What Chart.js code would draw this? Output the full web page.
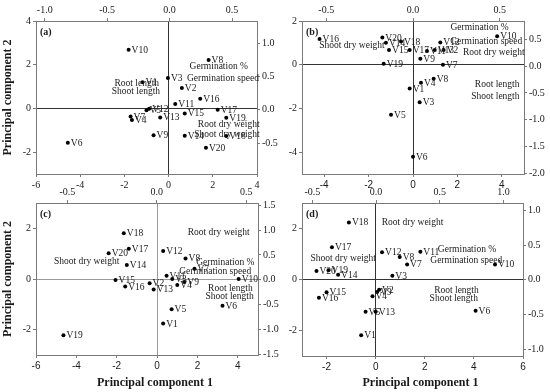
<!DOCTYPE html>
<html>
<head>
<meta charset="utf-8">
<script src="https://cdn.jsdelivr.net/npm/chart.js@4.4.1/dist/chart.umd.min.js"></script>
<style>
  html, body { margin: 0; padding: 0; background: #fff; }
  #wrap { position: relative; width: 550px; height: 392px; }
  #wrap canvas { position: absolute; left: 0; top: 0; }
</style>
</head>
<body>
<div id="wrap">
  <canvas id="ca" width="550" height="392"></canvas>
  <canvas id="cb" width="550" height="392"></canvas>
  <canvas id="cc" width="550" height="392"></canvas>
  <canvas id="cd" width="550" height="392"></canvas>
</div>
<script>
// ---------- data ----------
const genotypes = ['V1','V2','V3','V4','V5','V6','V7','V8','V9','V10','V11','V12','V13','V14','V15','V16','V17','V18','V19','V20'];
const traits = ['Germination %','Germination speed','Root length','Shoot length','Root dry weight','Shoot dry weight'];

// panel (a)
const pc1A = [-1.18, 0.60, -0.03, -1.66, -1.00, -4.56, -1.72, 1.81, -0.68, -1.81, 0.30, -0.88, -0.38, 0.73, 0.73, 1.43, 2.22, 2.61, 2.61, 1.69];
const pc2A = [1.20, 0.94, 1.39, -0.53, -0.08, -1.57, -0.37, 2.21, -1.23, 2.69, 0.20, -0.02, -0.41, -1.25, -0.23, 0.44, -0.06, -1.26, -0.43, -1.80];
const traitXA = [2.27, 2.46, -1.44, -1.48, 2.72, 2.64];
const traitYA = [1.90, 1.35, 1.14, 0.76, -0.73, -1.19];

// panel (b)
const pc1B = [-0.15, 1.38, 0.30, 0.36, -0.99, 0.00, 1.35, 0.93, 0.33, 3.79, 0.63, 1.23, 0.98, -1.22, -1.08, -4.21, -0.15, -0.54, -1.32, -1.38];
const pc2B = [-1.09, 0.67, -1.72, -0.82, -2.29, -4.21, 0.00, -0.64, 0.27, 1.30, 0.63, 1.02, 0.67, 1.00, 0.67, 1.18, 0.67, 1.06, 0.04, 1.24];
const traitXB = [3.00, 3.30, 3.79, 3.71, 3.64, -2.75];
const traitYB = [1.72, 1.05, -0.90, -1.47, 0.55, 0.90];

// panel (c)
const pc1C = [0.30, -0.37, 0.75, 1.00, 0.72, 3.24, 1.85, 1.41, 1.35, 4.04, 0.47, 0.30, -0.17, -1.50, -2.06, -1.58, -1.40, -1.65, -4.64, -2.40];
const pc2C = [-1.76, -0.17, 0.00, -0.24, -1.19, -1.06, 0.40, 0.81, -0.12, 0.00, 0.13, 1.11, -0.41, 0.55, -0.04, -0.30, 1.19, 1.81, -2.22, 1.02];
const traitXC = [3.38, 2.88, 3.63, 3.59, 3.05, -3.49];
const traitYC = [0.65, 0.29, -0.37, -0.70, 1.83, 0.69];

// panel (d)
const pc1D = [-0.59, 0.14, 0.68, -0.13, -0.41, 4.07, 1.28, 0.98, 0.06, 4.86, 1.82, 0.26, 0.00, -1.53, -2.00, -2.31, -1.78, -1.09, -1.92, -2.41];
const pc2D = [-2.19, -0.40, 0.15, -0.66, -1.26, -1.23, 0.59, 0.88, -0.49, 0.59, 1.09, 1.07, -1.26, 0.19, -0.50, -0.72, 1.26, 2.24, 0.36, 0.33];
const traitXD = [3.72, 3.69, 3.29, 3.18, 1.50, -1.32];
const traitYD = [1.16, 0.75, -0.43, -0.73, 2.22, 0.81];

// tick labels
const ticksXA = [-6, -4, -2, 0, 2, 4], ticksYA = [-2, 0, 2, 4], ticksX2A = [-1.0, -0.5, 0.0, 0.5], ticksY2A = [-0.5, 0.0, 0.5, 1.0];
const ticksXB = [-4, -2, 0, 2, 4], ticksYB = [-4, -2, 0, 2], ticksX2B = [-0.5, 0.0, 0.5], ticksY2B = [-2.0, -1.5, -1.0, -0.5, 0.0, 0.5];
const ticksXC = [-6, -4, -2, 0, 2, 4], ticksYC = [-2, 0, 2], ticksX2C = [-0.5, 0.0, 0.5], ticksY2C = [-1.5, -1.0, -0.5, 0.0, 0.5, 1.0, 1.5];
const ticksXD = [-2, 0, 2, 4, 6], ticksYD = [-2, 0, 2], ticksX2D = [-0.5, 0.0, 0.5, 1.0], ticksY2D = [-1.0, -0.5, 0.0, 0.5, 1.0];

// ---------- drawing ----------
const SERIF = "'Liberation Serif', 'Times New Roman', serif";
const SANS = "'Liberation Sans', Arial, sans-serif";
const AXIS = '#7a7a7a';
const TXT = '#1a1a1a';

const labelPlugin = {
  id: 'pcaLabels',
  afterDatasetsDraw(chart, args, opts) {
    const ctx = chart.ctx;
    const xs = chart.scales.x, ys = chart.scales.y;
    ctx.save();
    ctx.fillStyle = TXT;
    ctx.textBaseline = 'middle';
    // genotype labels
    ctx.font = "9.5px " + SERIF;
    ctx.textAlign = 'left';
    const meta = chart.getDatasetMeta(0);
    meta.data.forEach((pt, i) => {
      ctx.fillText(opts.names[i], pt.x + 3, pt.y + 0.5);
    });
    // trait labels
    ctx.textAlign = 'center';
    opts.traits.forEach((t, i) => {
      ctx.fillText(t, xs.getPixelForValue(opts.tx[i]), ys.getPixelForValue(opts.ty[i]));
    });
    // panel letter
    ctx.font = "bold 10px " + SERIF;
    ctx.textAlign = 'left';
    ctx.fillText(opts.letter, chart.chartArea.left + 4, chart.chartArea.top + 11);
    // x axis title (bottom panels)
    if (opts.xTitle) {
      ctx.font = "bold 12px " + SERIF;
      ctx.textAlign = 'center';
      const a = chart.chartArea;
      ctx.fillText('Principal component 1', (a.left + a.right) / 2 + 8, 383);
    }
    ctx.restore();
  }
};

function fixedTicks(values) {
  return function (scale) { scale.ticks = values.map(v => ({ value: v })); };
}

function makePanel(id, p) {
  const tickFont = { family: SERIF, size: 10 };
  const scales = {
    x: {
      type: 'linear', position: 'bottom', min: p.xr[0], max: p.xr[1],
      afterBuildTicks: fixedTicks(p.tx),
      afterFit: s => { s.height = p.hB; },
      ticks: { callback: v => String(v), font: { family: p.bottomFont, size: 10 }, color: TXT, maxRotation: 0, autoSkip: false, padding: 2 },
      grid: { drawOnChartArea: true, color: c => (c.tick && c.tick.value === 0) ? p.zero : 'rgba(0,0,0,0)', tickColor: AXIS, tickLength: 3, lineWidth: 1 },
      border: { display: true, color: AXIS, width: 1 }
    },
    x2: {
      type: 'linear', position: 'top', min: p.x2r[0], max: p.x2r[1],
      afterBuildTicks: fixedTicks(p.tx2),
      afterFit: s => { s.height = 18; },
      ticks: { callback: v => v.toFixed(1), font: tickFont, color: TXT, maxRotation: 0, autoSkip: false, padding: 2 },
      grid: { drawOnChartArea: false, tickColor: AXIS, tickLength: 3 },
      border: { display: true, color: AXIS, width: 1 }
    },
    y: {
      type: 'linear', position: 'left', min: p.yr[0], max: p.yr[1],
      afterBuildTicks: fixedTicks(p.ty),
      afterFit: s => { s.width = p.wL; },
      ticks: { callback: v => String(v), font: tickFont, color: TXT, autoSkip: false, padding: 2 },
      grid: { drawOnChartArea: true, color: c => (c.tick && c.tick.value === 0) ? p.zero : 'rgba(0,0,0,0)', tickColor: AXIS, tickLength: 3, lineWidth: 1 },
      border: { display: true, color: AXIS, width: 1 },
      title: { display: p.yTitle, text: 'Principal component 2', font: { family: SERIF, size: 12, weight: 'bold' }, color: TXT, padding: { top: 1, bottom: 0 } }
    },
    y2: {
      type: 'linear', position: 'right', min: p.y2r[0], max: p.y2r[1],
      afterBuildTicks: fixedTicks(p.ty2),
      afterFit: s => { s.width = 24; },
      ticks: { callback: v => v.toFixed(1), font: tickFont, color: TXT, autoSkip: false, padding: 2 },
      grid: { drawOnChartArea: false, tickColor: AXIS, tickLength: 3 },
      border: { display: true, color: AXIS, width: 1 }
    }
  };
  return new Chart(document.getElementById(id), {
    type: 'scatter',
    data: {
      datasets: [{
        data: p.pc1.map((x, i) => ({ x: x, y: p.pc2[i] })),
        xAxisID: 'x', yAxisID: 'y',
        pointRadius: 2, pointBackgroundColor: '#000', pointBorderWidth: 0, showLine: false
      }]
    },
    options: {
      responsive: false, animation: false, devicePixelRatio: 1,
      layout: { padding: p.pad },
      plugins: {
        legend: { display: false }, tooltip: { enabled: false },
        pcaLabels: { names: genotypes, traits: traits, tx: p.trx, ty: p.try_, letter: p.letter, xTitle: p.xTitle }
      },
      scales: scales
    },
    plugins: [labelPlugin]
  });
}

makePanel('ca', { letter: '(a)', pc1: pc1A, pc2: pc2A, trx: traitXA, try_: traitYA,
  xr: [-6, 4], yr: [-3, 4], x2r: [-1.07, 0.70], y2r: [-0.96, 1.33],
  tx: ticksXA, ty: ticksYA, tx2: ticksX2A, ty2: ticksY2A,
  wL: 36, hB: 20, yTitle: true, xTitle: false, bottomFont: SERIF, zero: '#333',
  pad: { left: 0, right: 269, top: 3, bottom: 198 } });

makePanel('cb', { letter: '(b)', pc1: pc1B, pc2: pc2B, trx: traitXB, try_: traitYB,
  xr: [-5, 5], yr: [-5, 2], x2r: [-0.64, 0.64], y2r: [-2.01, 0.84],
  tx: ticksXB, ty: ticksYB, tx2: ticksX2B, ty2: ticksY2B,
  wL: 26, hB: 20, yTitle: false, xTitle: false, bottomFont: SANS, zero: '#333',
  pad: { left: 276, right: 2, top: 3, bottom: 198 } });

makePanel('cc', { letter: '(c)', pc1: pc1C, pc2: pc2C, trx: traitXC, try_: traitYC,
  xr: [-6, 5], yr: [-3, 3], x2r: [-0.675, 0.566], y2r: [-1.52, 1.55],
  tx: ticksXC, ty: ticksYC, tx2: ticksX2C, ty2: ticksY2C,
  wL: 36, hB: 37, yTitle: true, xTitle: true, bottomFont: SANS, zero: '#9a9a9a',
  pad: { left: 0, right: 268, top: 185, bottom: 0 } });

makePanel('cd', { letter: '(d)', pc1: pc1D, pc2: pc2D, trx: traitXD, try_: traitYD,
  xr: [-3, 6], yr: [-3, 3], x2r: [-0.582, 1.154], y2r: [-1.10, 1.106],
  tx: ticksXD, ty: ticksYD, tx2: ticksX2D, ty2: ticksY2D,
  wL: 26, hB: 36, yTitle: false, xTitle: true, bottomFont: SANS, zero: '#333',
  pad: { left: 276, right: 3, top: 185, bottom: 0 } });
</script>
</body>
</html>
